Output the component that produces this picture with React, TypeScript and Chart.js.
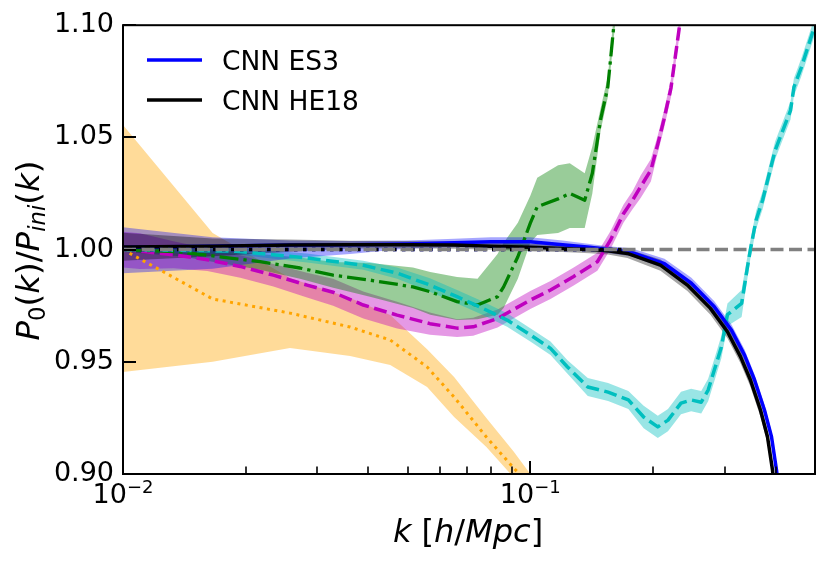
import React, { useEffect, useRef } from 'react';
import { Chart, registerables } from 'chart.js';
Chart.register(...registerables);

// ---------- axes ----------
const X_MIN = 0.01;
const X_MAX = 0.5;
const Y_MIN = 0.9;
const Y_MAX = 1.1;
const Y_TICKS = [0.9, 0.95, 1.0, 1.05, 1.1];
const X_MAJOR = [0.01, 0.1];
const X_MAJOR_EXP = ['\u22122', '\u22121'];
const X_MINOR = [0.02, 0.03, 0.04, 0.05, 0.06, 0.07, 0.08, 0.09, 0.2, 0.3, 0.4, 0.5];

// ---------- orange (dotted) ----------
const orangeK = [0.01, 0.0166, 0.0257, 0.0361, 0.0453, 0.0558, 0.065, 0.078, 0.091, 0.1, 0.11];
const orangeMean = [1.0, 0.978, 0.9717, 0.9655, 0.9597, 0.9477, 0.9343, 0.9165, 0.9027, 0.895, 0.886];
const orangeLow = [0.9454, 0.95, 0.9561, 0.9526, 0.9486, 0.9388, 0.9254, 0.912, 0.8985, 0.888, 0.878];
const orangeHigh = [1.0555, 1.0074, 0.9873, 0.9784, 0.9708, 0.9556, 0.9432, 0.925, 0.91, 0.9, 0.89];

// ---------- magenta (dashed) ----------
const magK = [0.01, 0.011, 0.0133, 0.0161, 0.0194, 0.0234, 0.0283, 0.0328, 0.0389, 0.0471, 0.0567, 0.0661, 0.0724, 0.0831, 0.1, 0.1121, 0.1275, 0.1461, 0.1573, 0.1693, 0.1782, 0.1866, 0.1977, 0.2056, 0.2129, 0.2215, 0.2318, 0.24];
const magMean = [1.0, 0.9993, 0.9977, 0.9955, 0.9925, 0.9886, 0.9842, 0.981, 0.9753, 0.9708, 0.967, 0.965, 0.9656, 0.9693, 0.9775, 0.982, 0.9879, 0.9946, 1.0042, 1.016, 1.022, 1.028, 1.0354, 1.047, 1.058, 1.072, 1.098, 1.12];
const magLow = [0.992, 0.9913, 0.9917, 0.9905, 0.9875, 0.9836, 0.9787, 0.975, 0.9693, 0.9648, 0.962, 0.961, 0.9616, 0.9653, 0.9735, 0.978, 0.9839, 0.9906, 1.0002, 1.012, 1.018, 1.023, 1.0304, 1.043, 1.054, 1.068, 1.094, 1.116];
const magHigh = [1.008, 1.0073, 1.0037, 1.0005, 0.9975, 0.9936, 0.9897, 0.987, 0.9813, 0.9768, 0.972, 0.969, 0.9696, 0.9733, 0.9815, 0.986, 0.9919, 0.9986, 1.0082, 1.02, 1.026, 1.033, 1.0404, 1.051, 1.062, 1.076, 1.102, 1.124];

// ---------- green (dash-dot) ----------
const greenK = [0.01, 0.0138, 0.0173, 0.0217, 0.0272, 0.0328, 0.0404, 0.0515, 0.0568, 0.0661, 0.0742, 0.0831, 0.086, 0.0932, 0.1, 0.104, 0.117, 0.125, 0.136, 0.142, 0.1488, 0.155, 0.16, 0.166];
const greenMean = [1.0, 0.999, 0.9968, 0.9946, 0.9918, 0.9886, 0.9864, 0.9834, 0.9812, 0.9768, 0.9753, 0.979, 0.9834, 0.9968, 1.0118, 1.0191, 1.0226, 1.025, 1.022, 1.034, 1.058, 1.0725, 1.098, 1.125];
const greenLow = [0.999, 0.997, 0.994, 0.991, 0.987, 0.983, 0.979, 0.974, 0.971, 0.9686, 0.969, 0.971, 0.974, 0.987, 1.003, 1.0065, 1.0074, 1.0096, 1.0096, 1.025, 1.053, 1.068, 1.093, 1.12];
const greenHigh = [1.001, 1.0005, 0.9995, 0.998, 0.9965, 0.9945, 0.994, 0.992, 0.99, 0.9878, 0.987, 0.998, 1.003, 1.012, 1.024, 1.032, 1.0376, 1.0385, 1.034, 1.046, 1.063, 1.077, 1.103, 1.13];

// ---------- cyan (dashed) ----------
const cyanK = [0.01, 0.019, 0.0283, 0.0389, 0.0471, 0.0567, 0.0661, 0.0753, 0.0877, 0.1, 0.1121, 0.1234, 0.1384, 0.1552, 0.1741, 0.1898, 0.2056, 0.2178, 0.2344, 0.2482, 0.2628, 0.2733, 0.283, 0.2945, 0.3048, 0.3302, 0.3405, 0.347, 0.3583, 0.3718, 0.3992, 0.4354, 0.4438, 0.4624, 0.5];
const cyanMean = [1.0, 0.9993, 0.9963, 0.993, 0.9895, 0.9842, 0.979, 0.9744, 0.9686, 0.962, 0.956, 0.9477, 0.9388, 0.9365, 0.933, 0.9254, 0.921, 0.924, 0.9316, 0.933, 0.932, 0.9374, 0.9463, 0.9566, 0.971, 0.976, 0.991, 1.0, 1.0131, 1.022, 1.0443, 1.062, 1.0724, 1.081, 1.1];
const cyanLow = [0.999, 0.9978, 0.9943, 0.991, 0.987, 0.9812, 0.976, 0.9714, 0.9656, 0.959, 0.953, 0.9447, 0.9348, 0.9325, 0.929, 0.9204, 0.916, 0.919, 0.9266, 0.928, 0.927, 0.9324, 0.9413, 0.9516, 0.966, 0.970, 0.986, 0.996, 1.0091, 1.018, 1.0403, 1.058, 1.0684, 1.077, 1.096];
const cyanHigh = [1.001, 1.0008, 0.9983, 0.995, 0.992, 0.9872, 0.982, 0.9774, 0.9716, 0.965, 0.959, 0.9507, 0.9428, 0.9405, 0.937, 0.9304, 0.926, 0.929, 0.9366, 0.938, 0.937, 0.9424, 0.9513, 0.9616, 0.976, 0.982, 0.996, 1.004, 1.0171, 1.026, 1.0483, 1.066, 1.0764, 1.085, 1.104];

// ---------- CNN ES3 (blue, solid) ----------
const esK = [0.01, 0.0166, 0.0257, 0.0361, 0.05, 0.065, 0.08, 0.1, 0.12, 0.14, 0.155, 0.177, 0.2135, 0.2486, 0.283, 0.312, 0.3357, 0.3551, 0.3757, 0.391, 0.4022, 0.41];
const esMean = [1.001, 1.0015, 1.002, 1.0022, 1.0025, 1.003, 1.0035, 1.0035, 1.0022, 1.001, 1.0, 0.9988, 0.9937, 0.985, 0.9745, 0.964, 0.953, 0.942, 0.9285, 0.9166, 0.9018, 0.888];
const esLow = [0.9895, 0.9915, 0.996, 0.998, 1.0005, 1.001, 1.0015, 1.0015, 1.0005, 0.9995, 0.9985, 0.997, 0.9915, 0.9825, 0.972, 0.9615, 0.9505, 0.9395, 0.926, 0.914, 0.899, 0.885];
const esHigh = [1.01, 1.0055, 1.004, 1.0038, 1.004, 1.0048, 1.0055, 1.0055, 1.004, 1.0025, 1.0015, 1.0006, 0.9959, 0.9875, 0.977, 0.9665, 0.9555, 0.9445, 0.931, 0.919, 0.9046, 0.891];

// ---------- CNN HE18 (black, solid) ----------
const heK = [0.01, 0.0166, 0.0257, 0.0361, 0.05, 0.065, 0.08, 0.1, 0.12, 0.14, 0.155, 0.1731, 0.2087, 0.243, 0.2768, 0.3048, 0.3281, 0.3471, 0.3673, 0.3822, 0.3932, 0.4];
const heMean = [1.0012, 1.0015, 1.002, 1.0022, 1.0022, 1.002, 1.0015, 1.001, 1.0005, 1.0, 0.9995, 0.9983, 0.9931, 0.9842, 0.9738, 0.9634, 0.9523, 0.9419, 0.9285, 0.9166, 0.9018, 0.888];
const heLow = [0.995, 0.997, 0.999, 1.0005, 1.0006, 1.0004, 0.9999, 0.9994, 0.9989, 0.9984, 0.9978, 0.9963, 0.9906, 0.9815, 0.971, 0.9605, 0.9493, 0.9389, 0.9255, 0.9136, 0.8988, 0.885];
const heHigh = [1.0075, 1.005, 1.0045, 1.0039, 1.0038, 1.0036, 1.0031, 1.0026, 1.0021, 1.0016, 1.0012, 1.0003, 0.9956, 0.9869, 0.9766, 0.9663, 0.9553, 0.9449, 0.9315, 0.9196, 0.9048, 0.891];

// ---------- reference lines ----------
const blueDotK = [0.01, 0.16];
const blueDotV = [1.0, 1.0];
const blackDotK = [0.01, 0.17];
const blackDotV = [1.0, 1.0];
const unityK = [0.01, 0.5];
const unityV = [1.0, 1.0];

const LEGEND = [
  { label: 'CNN ES3', color: '#0000ff' },
  { label: 'CNN HE18', color: '#000000' },
];

const FAM = "'DejaVu Sans'";
const f = (size: number, it?: boolean) => `${it ? 'italic ' : ''}${size}px ${FAM}`;

type Seg = { t: string; it?: boolean; sub?: boolean; sup?: boolean };

function drawMath(ctx: CanvasRenderingContext2D, segs: Seg[], cx: number, by: number, size: number) {
  let total = 0;
  const widths: number[] = [];
  for (const s of segs) {
    ctx.font = f(s.sub || s.sup ? size * 0.7 : size, s.it);
    const w = ctx.measureText(s.t).width;
    widths.push(w);
    total += w;
  }
  let x = cx - total / 2;
  ctx.textAlign = 'left';
  ctx.textBaseline = 'alphabetic';
  segs.forEach((s, i) => {
    ctx.font = f(s.sub || s.sup ? size * 0.7 : size, s.it);
    const dy = s.sub ? size * 0.18 : s.sup ? -size * 0.4 : 0;
    ctx.fillText(s.t, x, by + dy);
    x += widths[i];
  });
}

const pts = (k: number[], v: number[]) => k.map((x, i) => ({ x, y: v[i] }));

const decor = {
  id: 'decor',
  afterDatasetsDraw(chart: any) {
    const { ctx, chartArea: a, scales } = chart;
    const xs = scales.x;
    const ys = scales.y;
    ctx.save();
    ctx.strokeStyle = '#000';
    ctx.lineWidth = 2;
    ctx.lineCap = 'butt';
    for (const v of Y_TICKS) {
      const y = Math.round(ys.getPixelForValue(v));
      ctx.beginPath();
      ctx.moveTo(a.left, y);
      ctx.lineTo(a.left + 13, y);
      ctx.stroke();
    }
    for (const v of X_MAJOR) {
      const x = Math.round(xs.getPixelForValue(v));
      ctx.beginPath();
      ctx.moveTo(x, a.bottom);
      ctx.lineTo(x, a.bottom - 13);
      ctx.stroke();
    }
    ctx.lineWidth = 1.6;
    for (const v of X_MINOR) {
      const x = Math.round(xs.getPixelForValue(v));
      ctx.beginPath();
      ctx.moveTo(x, a.bottom);
      ctx.lineTo(x, a.bottom - 7.5);
      ctx.stroke();
    }
    ctx.lineWidth = 2;
    ctx.strokeRect(a.left, a.top, a.right - a.left, a.bottom - a.top);
    ctx.restore();
  },
  afterDraw(chart: any) {
    const { ctx, chartArea: a, scales } = chart;
    const xs = scales.x;
    ctx.save();
    ctx.fillStyle = '#000';
    X_MAJOR.forEach((v, i) => {
      const x = xs.getPixelForValue(v);
      ctx.font = f(27);
      const w1 = ctx.measureText('10').width;
      ctx.font = f(18);
      const w2 = ctx.measureText(X_MAJOR_EXP[i]).width;
      const x0 = x - (w1 + w2) / 2;
      ctx.textAlign = 'left';
      ctx.textBaseline = 'alphabetic';
      ctx.font = f(27);
      ctx.fillText('10', x0, 503);
      ctx.font = f(18);
      ctx.fillText(X_MAJOR_EXP[i], x0 + w1, 493);
    });
    drawMath(ctx, [
      { t: 'k', it: true },
      { t: ' [' },
      { t: 'h', it: true },
      { t: '/' },
      { t: 'Mpc', it: true },
      { t: ']' },
    ], (a.left + a.right) / 2 - 1, 542, 32);
    ctx.save();
    ctx.translate(39, (a.top + a.bottom) / 2 + 1);
    ctx.rotate(-Math.PI / 2);
    drawMath(ctx, [
      { t: 'P', it: true },
      { t: '0', sub: true },
      { t: '(' },
      { t: 'k', it: true },
      { t: ')' },
      { t: '/' },
      { t: 'P', it: true },
      { t: 'ini', it: true, sub: true },
      { t: '(' },
      { t: 'k', it: true },
      { t: ')' },
    ], 0, 0, 32.5);
    ctx.restore();
    LEGEND.forEach((L, i) => {
      const y = 60 + i * 40;
      ctx.strokeStyle = L.color;
      ctx.lineWidth = 3.5;
      ctx.beginPath();
      ctx.moveTo(147, y);
      ctx.lineTo(202, y);
      ctx.stroke();
      ctx.font = f(26.5);
      ctx.textAlign = 'left';
      ctx.textBaseline = 'alphabetic';
      ctx.fillText(L.label, 222, y + 10);
    });
    ctx.restore();
  },
};

function line(k: number[], v: number[], color: string, width: number, dash: number[]) {
  return {
    data: pts(k, v),
    borderColor: color,
    borderWidth: width,
    borderDash: dash,
    borderCapStyle: 'butt',
    borderJoinStyle: 'round',
    pointRadius: 0,
    fill: false,
    tension: 0,
  };
}
function edge(k: number[], v: number[]) {
  return { data: pts(k, v), borderWidth: 0, borderColor: 'rgba(0,0,0,0)', pointRadius: 0, fill: false, tension: 0 };
}
function band(k: number[], v: number[], target: number, color: string) {
  return { data: pts(k, v), borderWidth: 0, borderColor: 'rgba(0,0,0,0)', pointRadius: 0, fill: { target }, backgroundColor: color, tension: 0 };
}

export default function App() {
  const ref = useRef<HTMLCanvasElement>(null);
  useEffect(() => {
    if (!ref.current) return;
    const ds: any[] = [];
    ds.push(line(unityK, unityV, '#808080', 3.5, [13, 5.5]));
    ds.push(line(blackDotK, blackDotV, '#000000', 3.5, [3.5, 5.5]));
    ds.push(line(blueDotK, blueDotV, '#0000ff', 3.5, [3.5, 5.5]));
    ds.push(line(heK, heMean, '#000000', 3.5, []));
    ds.push(line(esK, esMean, '#0000ff', 3.5, []));
    ds.push(line(cyanK, cyanMean, '#00bfbf', 3.5, [13, 5.5]));
    ds.push(line(greenK, greenMean, '#008000', 3.3, [19, 5, 3.3, 5]));
    ds.push(line(magK, magMean, '#bf00bf', 3.5, [13, 5.5]));
    ds.push(line(orangeK, orangeMean, '#ffa500', 3, [3, 4.5]));
    const addBand = (k: number[], lo: number[], hi: number[], color: string) => {
      const hiIdx = ds.length;
      ds.push(band(k, hi, hiIdx + 1, color));
      ds.push(edge(k, lo));
    };
    addBand(heK, heLow, heHigh, 'rgba(0,0,0,0.35)');
    addBand(esK, esLow, esHigh, 'rgba(0,0,255,0.35)');
    addBand(cyanK, cyanLow, cyanHigh, 'rgba(0,191,191,0.4)');
    addBand(greenK, greenLow, greenHigh, 'rgba(0,128,0,0.4)');
    addBand(magK, magLow, magHigh, 'rgba(191,0,191,0.4)');
    addBand(orangeK, orangeLow, orangeHigh, 'rgba(255,165,0,0.4)');

    const chart = new Chart(ref.current, {
      type: 'line',
      data: { datasets: ds },
      options: {
        animation: false,
        responsive: false,
        devicePixelRatio: 1,
        layout: { padding: { left: 0, top: 25, right: 15, bottom: 0 } },
        plugins: { legend: { display: false }, tooltip: { enabled: false } },
        scales: {
          x: {
            type: 'logarithmic',
            min: X_MIN,
            max: X_MAX,
            ticks: { display: false },
            grid: { display: false, drawTicks: false },
            border: { display: false },
            afterFit: (s: any) => { s.height = 93; },
          },
          y: {
            type: 'linear',
            min: Y_MIN,
            max: Y_MAX,
            afterBuildTicks: (s: any) => { s.ticks = Y_TICKS.map((value) => ({ value })); },
            ticks: {
              callback: (v: any) => Number(v).toFixed(2),
              font: { family: 'DejaVu Sans', size: 27 },
              color: '#000',
              padding: 9,
            },
            grid: { display: false, drawTicks: false },
            border: { display: false },
            afterFit: (s: any) => { s.width = 123; },
          },
        },
      } as any,
      plugins: [decor],
    });
    return () => chart.destroy();
  }, []);
  return (
    <div style={{ position: 'absolute', left: 0, top: 0, width: 830, height: 567, background: '#fff' }}>
      <canvas ref={ref} width={830} height={567} style={{ display: 'block' }} />
    </div>
  );
}
